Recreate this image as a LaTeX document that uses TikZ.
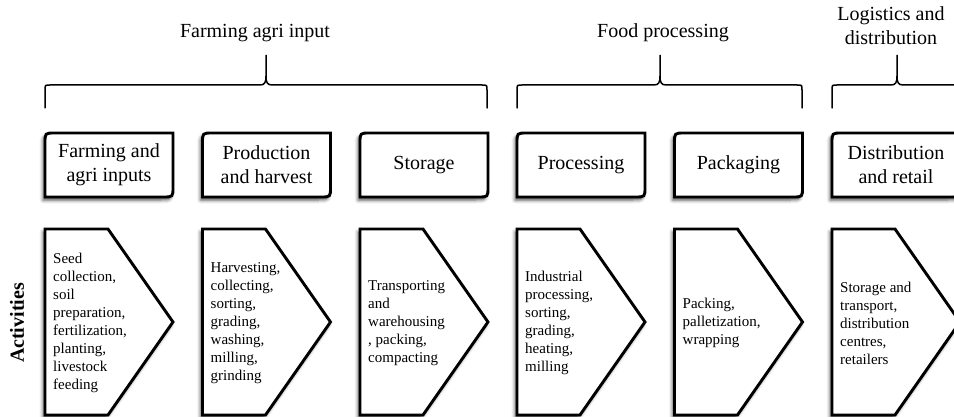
\documentclass[tikz,border=0pt]{standalone}
\usepackage{fontspec}
\setmainfont{Liberation Serif}
\usetikzlibrary{shadows.blur}

\begin{document}
\begin{tikzpicture}[x=1pt, y=-1pt, every node/.style={inner sep=0pt, font=\fontsize{20}{24}\selectfont},
	frame/.style={draw, line width=2.9pt, fill=white, blur shadow={shadow xshift=-2pt, shadow yshift=-3pt, shadow blur radius=3.5pt, shadow opacity=70}},
	acts/.style={anchor=west, align=left, font=\fontsize{15}{18}\selectfont},
	brace/.style={line width=1.5pt, line cap=round}]
	\useasboundingbox (0,0) rectangle (954,417);
	\clip (0,0) rectangle (954,417);
	\node[anchor=base] (hfarm) at (255,38) {Farming agri input};
	\node[anchor=base] (hfood) at (663,38) {Food processing};
	\node[anchor=base, align=center] (hlog) at (891,45) {Logistics and\\distribution};
	\draw[brace] (45,108) -- (45,90) .. controls (45,85) .. (50,85) -- (260,85) .. controls (265,85) and (266,82) .. (266,76) -- (266,55)
		-- (266,76) .. controls (266,82) and (267,85) .. (272,85) -- (482,85) .. controls (487,85) .. (487,90) -- (487,108);
	\draw[brace] (517,108) -- (517,90) .. controls (517,85) .. (522,85) -- (654,85) .. controls (659,85) and (660,82) .. (660,76) -- (660,55)
		-- (660,76) .. controls (660,82) and (661,85) .. (666,85) -- (797,85) .. controls (802,85) .. (802,90) -- (802,108);
	\draw[brace] (832,108) -- (832,90) .. controls (832,85) .. (837,85) -- (891,85) .. controls (896,85) and (897,82) .. (897,76) -- (897,55)
		-- (897,76) .. controls (897,82) and (898,85) .. (903,85) -- (957,85) .. controls (962,85) .. (962,90) -- (962,108);
	\node[rotate=90, font=\bfseries\fontsize{20}{24}\selectfont] (act) at (17,323) {Activities};
	\begin{scope}
		\draw[frame] (45,197) -- (45,143) .. controls (45,133) .. (55,133) -- (173,133) -- (173,187) .. controls (173,197) .. (163,197) -- cycle;
		\node[align=center] (farm) at (109,165) {Farming and\\agri inputs};
		\draw[frame] (45,229) -- (108,229) -- (173,322) -- (108,415) -- (45,415) -- cycle;
		\node[acts] (farmact) at (53,323) {Seed\\collection,\\soil\\preparation,\\fertilization,\\planting,\\livestock\\feeding};
	\end{scope}
	\begin{scope}[xshift=157.5pt]
		\draw[frame] (45,197) -- (45,143) .. controls (45,133) .. (55,133) -- (173,133) -- (173,187) .. controls (173,197) .. (163,197) -- cycle;
		\node[align=center] (prod) at (109,165) {Production\\and harvest};
		\draw[frame] (45,229) -- (108,229) -- (173,322) -- (108,415) -- (45,415) -- cycle;
		\node[acts] (prodact) at (53,323) {Harvesting,\\collecting,\\sorting,\\grading,\\washing,\\milling,\\grinding};
	\end{scope}
	\begin{scope}[xshift=315pt]
		\draw[frame] (45,197) -- (45,143) .. controls (45,133) .. (55,133) -- (173,133) -- (173,187) .. controls (173,197) .. (163,197) -- cycle;
		\node (stor) at (109,165) {Storage};
		\draw[frame] (45,229) -- (108,229) -- (173,322) -- (108,415) -- (45,415) -- cycle;
		\node[acts] (storact) at (53,323) {Transporting\\and\\warehousing\\, packing,\\compacting};
	\end{scope}
	\begin{scope}[xshift=472pt]
		\draw[frame] (45,197) -- (45,143) .. controls (45,133) .. (55,133) -- (173,133) -- (173,187) .. controls (173,197) .. (163,197) -- cycle;
		\node (proc) at (109,165) {Processing};
		\draw[frame] (45,229) -- (108,229) -- (173,322) -- (108,415) -- (45,415) -- cycle;
		\node[acts] (procact) at (53,323) {Industrial\\processing,\\sorting,\\grading,\\heating,\\milling};
	\end{scope}
	\begin{scope}[xshift=629.5pt]
		\draw[frame] (45,197) -- (45,143) .. controls (45,133) .. (55,133) -- (173,133) -- (173,187) .. controls (173,197) .. (163,197) -- cycle;
		\node (pack) at (109,165) {Packaging};
		\draw[frame] (45,229) -- (108,229) -- (173,322) -- (108,415) -- (45,415) -- cycle;
		\node[acts] (packact) at (53,323) {Packing,\\palletization,\\wrapping};
	\end{scope}
	\begin{scope}[xshift=787pt]
		\draw[frame] (45,197) -- (45,143) .. controls (45,133) .. (55,133) -- (173,133) -- (173,187) .. controls (173,197) .. (163,197) -- cycle;
		\node[align=center] (dist) at (109,165) {Distribution\\and retail};
		\draw[frame] (45,229) -- (108,229) -- (173,322) -- (108,415) -- (45,415) -- cycle;
		\node[acts] (distact) at (53,323) {Storage and\\transport,\\distribution\\centres,\\retailers};
	\end{scope}
\end{tikzpicture}
\end{document}
